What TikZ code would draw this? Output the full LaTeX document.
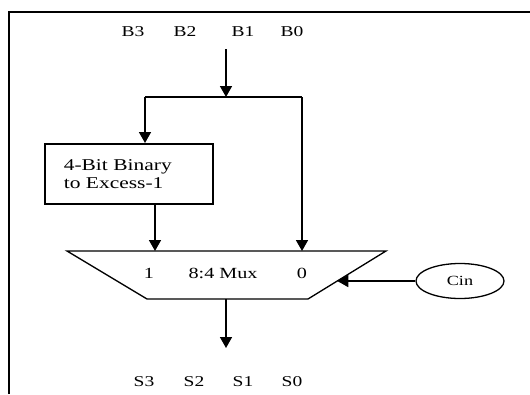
\documentclass[tikz,border=0pt]{standalone}
\usepackage{fontspec}
\setmainfont{Liberation Serif}[FakeStretch=1.3]
\usetikzlibrary{arrows.meta,shapes.geometric,calc}
\tikzset{
  lbl/.style={inner sep=0pt, anchor=base, font=\fontsize{15}{17}\selectfont, text=black},
  wire/.style={line width=1.7pt},
  arr/.style={line width=1.7pt, -{Triangle[width=12pt,length=11pt]}},
  convbox/.style={draw, line width=1.6pt, anchor=north west, minimum width=168pt, minimum height=60pt,
     text width=130pt, inner xsep=19pt, align=left, font=\fontsize{16.5}{17}\selectfont, text=black},
  muxshape/.style={draw, line width=1.3pt},
  muxtxt/.style={inner sep=0pt, font=\fontsize{15.5}{17}\selectfont, text=black},
  cinnode/.style={draw, ellipse, line width=1.3pt, minimum width=88pt, minimum height=35pt, inner sep=0pt,
     font=\fontsize{14}{16}\selectfont, text=black},
}
\begin{document}
\begin{tikzpicture}[x=1pt,y=-1pt]
\useasboundingbox (0,0) rectangle (530,394);
% frame (only top and left visible)
\draw[line width=1.8pt] (9,394) -- (9,12) -- (530,12);
% input labels
\node[lbl] (b3) at (133,36) {B3};
\node[lbl] (b2) at (185,36) {B2};
\node[lbl] (b1) at (243,36) {B1};
\node[lbl] (b0) at (292,36) {B0};
% converter box
\node[convbox] (box) at (44,143) {4-Bit Binary\\[1pt]to Excess-1\\[-6pt]};
% mux
\coordinate (mtl) at (67,251);
\coordinate (mtr) at (386,251);
\coordinate (mbr) at (308,299);
\coordinate (mbl) at (147,299);
\draw[muxshape] (mtl) -- (mtr) -- (mbr) -- (mbl) -- cycle;
\node[muxtxt] (mux) at (223,273) {8:4 Mux};
\node[muxtxt] (in1) at (149,273) {1};
\node[muxtxt] (in0) at (302,273) {0};
% Cin
\node[cinnode] (cin) at (460,281) {Cin};
% output labels
\node[lbl] (s3) at (144,386) {S3};
\node[lbl] (s2) at (194,386) {S2};
\node[lbl] (s1) at (243,386) {S1};
\node[lbl] (s0) at (292,386) {S0};
% connectors
\coordinate (src) at (226,49);
\coordinate (split) at (226,97);
\coordinate (left) at (145,97);
\coordinate (right) at (302,97);
\coordinate (m1) at (155,251);
\coordinate (m0) at (302,251);
\coordinate (cinin) at ($(mtr)!30/48!(mbr)$);
\coordinate (mout) at (226,299);
\coordinate (outend) at (226,348);
\draw[arr] (src) -- (split);
\draw[wire] (left) -- (right);
\draw[arr] (left) -- (left |- box.north);
\draw[arr] (right) -- (m0);
\draw[arr] (m1 |- box.south) -- (m1);
\draw[arr] (cin.west) -- (cinin);
\draw[arr] (mout) -- (outend);
\end{tikzpicture}
\end{document}
